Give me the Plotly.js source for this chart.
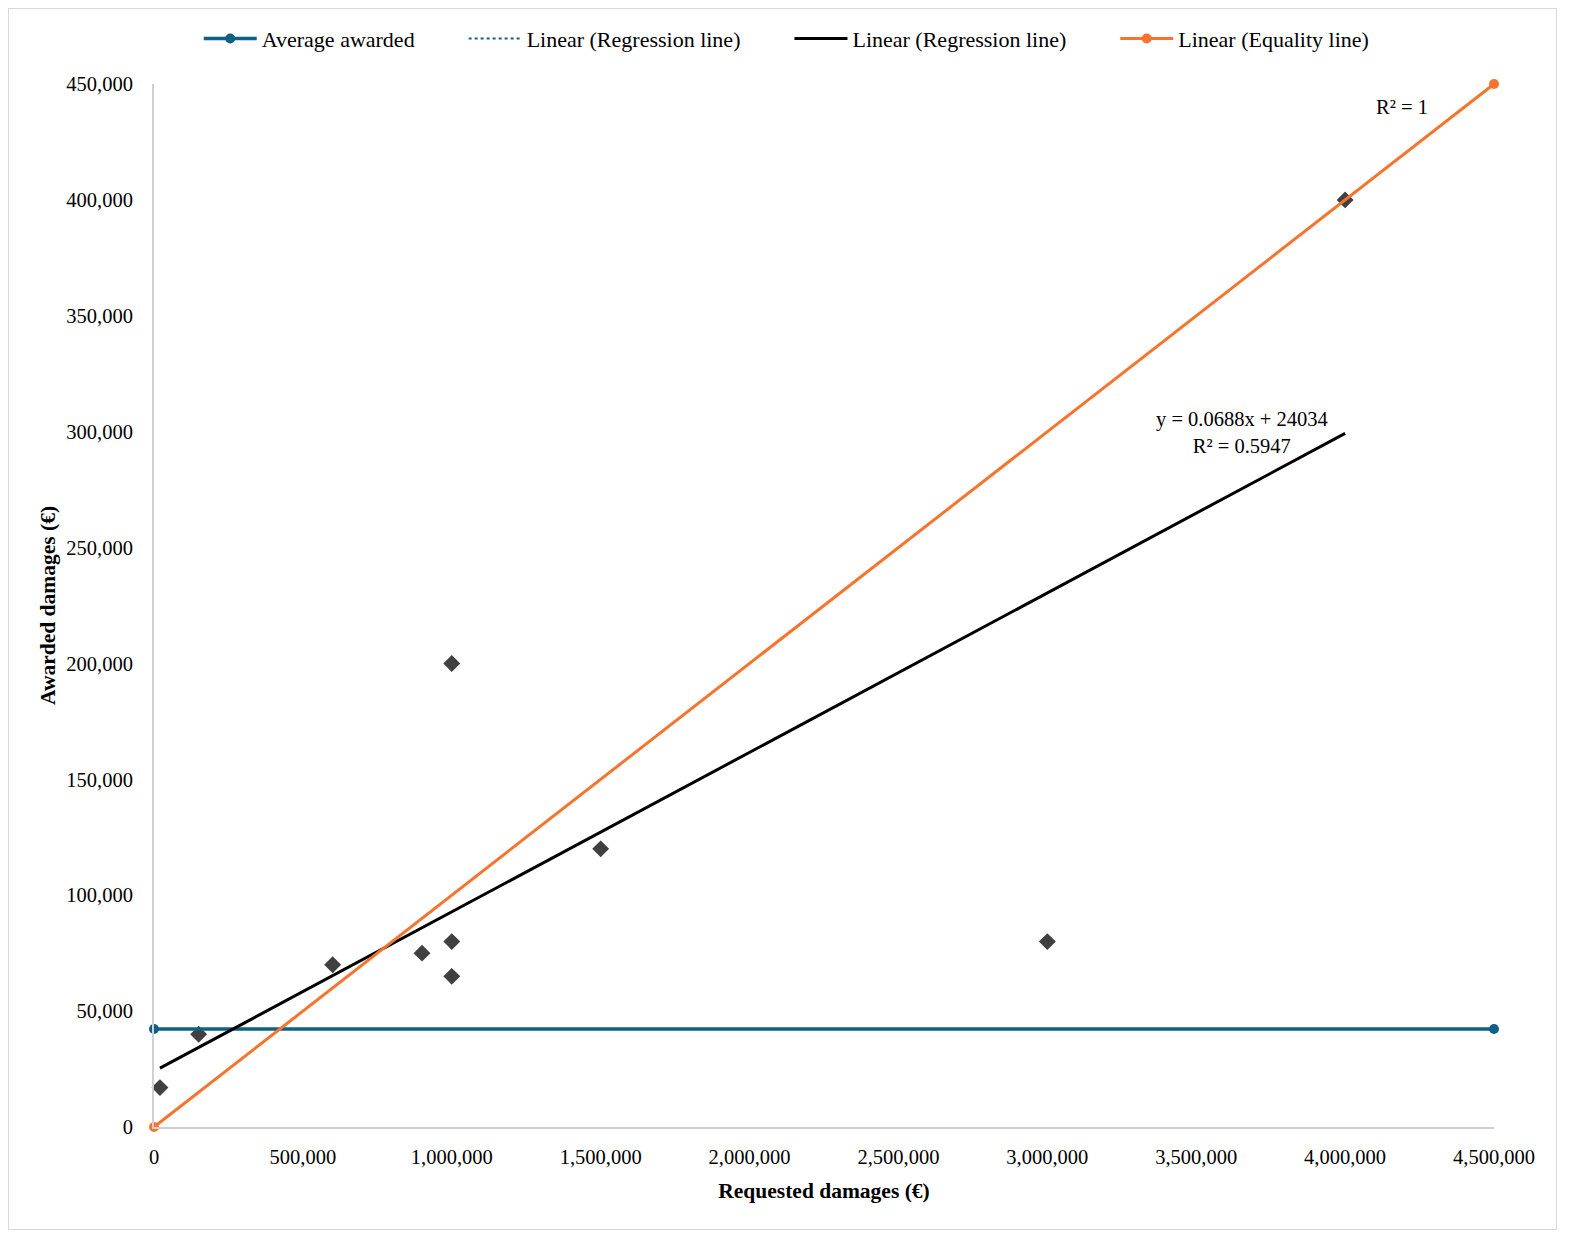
<!DOCTYPE html>
<html>
<head>
<meta charset="utf-8">
<script src="https://cdn.plot.ly/plotly-3.0.1.min.js"></script>
<style>
    html, body { margin: 0; padding: 0; background: #ffffff; overflow: hidden; }
    #frame {
        position: absolute;
        left: 8px;
        top: 8px;
        width: 1547px;
        height: 1220px;
        border: 1.5px solid #d9d9d9;
        pointer-events: none;
    }
    #chart { width: 1583px; height: 1250px; }
</style>
</head>
<body>
<div id="chart"></div>
<div id="frame"></div>
<script>
// requested vs awarded damages per case
const requestedDamages = [20000, 150000, 600000, 900000, 1000000, 1000000, 1000000, 1500000, 3000000, 4000000];
const awardedDamages = [17000, 40000, 70000, 75000, 80000, 65000, 200000, 120000, 80000, 400000];

const averageX = [0, 4500000];
const averageY = [42300, 42300];

const equalityX = [0, 4500000];
const equalityY = [0, 450000];

const regressionSlope = 0.0688;
const regressionIntercept = 24034;
const regressionX = [20000, 4000000];
const regressionY = regressionX.map((x) => regressionSlope * x + regressionIntercept);

const xTicks = [0, 500000, 1000000, 1500000, 2000000, 2500000, 3000000, 3500000, 4000000, 4500000];
const yTicks = [0, 50000, 100000, 150000, 200000, 250000, 300000, 350000, 400000, 450000];

const blue = "#0f6085";
const orange = "#f7742f";
const fontFamily = "\"Liberation Serif\", \"DejaVu Serif\", serif";
const gap = "\u00a0".repeat(8);

const traces = [
    {
        type: "scatter",
        mode: "markers",
        x: requestedDamages,
        y: awardedDamages,
        showlegend: false,
        cliponaxis: false,
        marker: { symbol: "diamond", size: 13, color: "#404040" },
    },
    {
        type: "scatter",
        mode: "lines+markers",
        name: "Average awarded" + gap,
        x: averageX,
        y: averageY,
        cliponaxis: false,
        line: { color: blue, width: 3.5 },
        marker: { size: 10, color: blue },
    },
    {
        type: "scatter",
        mode: "lines",
        name: "Linear (Regression line)" + gap,
        x: averageX,
        y: averageY,
        cliponaxis: false,
        line: { color: blue, width: 2, dash: "dot" },
    },
    {
        type: "scatter",
        mode: "lines",
        name: "Linear (Regression line)" + gap,
        x: regressionX,
        y: regressionY,
        line: { color: "#000000", width: 3 },
    },
    {
        type: "scatter",
        mode: "lines+markers",
        name: "Linear (Equality line)",
        x: equalityX,
        y: equalityY,
        cliponaxis: false,
        line: { color: orange, width: 3 },
        marker: { size: 10, color: orange },
    },
];

const tickText = (values) => values.map((v) => v.toLocaleString("en-US"));

const layout = {
    width: 1583,
    height: 1250,
    margin: { t: 84, r: 89, b: 123, l: 154 },
    paper_bgcolor: "#ffffff",
    plot_bgcolor: "#ffffff",
    font: { family: fontFamily, color: "#000000", size: 20.5 },
    showlegend: true,
    legend: {
        orientation: "h",
        xref: "container",
        yref: "container",
        x: 0.497,
        xanchor: "center",
        y: 0.969,
        yanchor: "middle",
        font: { size: 22 },
        traceorder: "normal",
        itemwidth: 53,
    },
    xaxis: {
        range: [0, 4500000],
        tickvals: xTicks,
        ticktext: tickText(xTicks),
        automargin: false,
        showgrid: false,
        zeroline: false,
        showline: true,
        linecolor: "#d0d0d0",
        linewidth: 2,
        ticks: "",
        ticklabelstandoff: 10,
        title: {
            text: "<b>Requested damages (€)</b>",
            font: { size: 21.5 },
            standoff: 16,
        },
    },
    yaxis: {
        range: [0, 450000],
        tickvals: yTicks,
        ticktext: tickText(yTicks),
        automargin: false,
        showgrid: false,
        zeroline: false,
        showline: true,
        linecolor: "#d0d0d0",
        linewidth: 2,
        ticks: "",
        ticklabelstandoff: 15,
        title: {
            text: "<b>Awarded damages (€)</b>",
            font: { size: 21.5 },
            standoff: 5,
        },
    },
    annotations: [
        {
            x: 4190000,
            y: 440000,
            text: "R² = 1",
            showarrow: false,
        },
        {
            x: 3653000,
            y: 299500,
            text: "y = 0.0688x + 24034<br>R² = 0.5947",
            showarrow: false,
            align: "center",
        },
    ],
};

Plotly.newPlot("chart", traces, layout, { displayModeBar: false, staticPlot: true });
</script>
</body>
</html>
